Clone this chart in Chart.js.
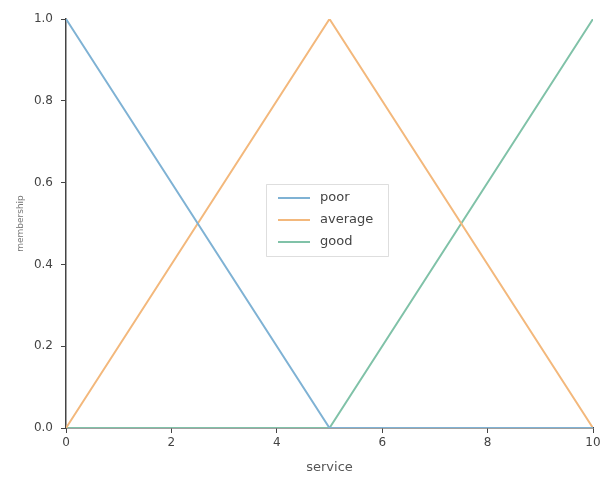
<!DOCTYPE html>
<html>
<head>
<meta charset="utf-8">
<script src="https://cdn.jsdelivr.net/npm/chart.js@4/dist/chart.umd.min.js"></script>
<style>
  body { margin: 0; background: #fff; }
  #wrap { width: 604px; height: 484px; }
</style>
</head>
<body>
<div id="wrap"><canvas id="chart" width="604" height="484"></canvas></div>
<script>
// universe points of the service variable
const service = [0, 5, 10];
const poor = [1, 0, 0];
const average = [0, 1, 0];
const good = [0, 0, 1];
const xTicks = [0, 2, 4, 6, 8, 10];
const yTicks = [0, 0.2, 0.4, 0.6, 0.8, 1.0];

const toPoints = (vals) => service.map((x, i) => ({ x: x, y: vals[i] }));

// legend drawn inside the plot, like matplotlib's "best" location
const innerLegend = {
  id: "innerLegend",
  afterDatasetsDraw(chart) {
    const ctx = chart.ctx;
    const left = 266, top = 184;
    ctx.save();
    ctx.strokeStyle = "rgba(200,200,200,0.6)";
    ctx.lineWidth = 1;
    ctx.fillStyle = "rgba(255,255,255,0.85)";
    ctx.beginPath();
    ctx.rect(left + 0.5, top + 0.5, 122, 72);
    ctx.fill();
    ctx.stroke();
    ctx.font = "13px 'DejaVu Sans'";
    ctx.textBaseline = "middle";
    chart.data.datasets.forEach((ds, i) => {
      const y = top + 14 + i * 22;
      ctx.strokeStyle = ds.borderColor;
      ctx.lineWidth = 2;
      ctx.beginPath();
      ctx.moveTo(left + 12, y);
      ctx.lineTo(left + 44, y);
      ctx.stroke();
      ctx.fillStyle = "#444";
      ctx.fillText(ds.label, left + 54, y);
    });
    ctx.restore();
  },
};

const ctx = document.getElementById("chart").getContext("2d");

new Chart(ctx, {
  type: "line",
  data: {
    datasets: [
      { label: "poor", data: toPoints(poor), borderColor: "#7fb2d4" },
      { label: "average", data: toPoints(average), borderColor: "#f3b87c" },
      { label: "good", data: toPoints(good), borderColor: "#80c2a8" },
    ],
  },
  options: {
    responsive: false,
    animation: false,
    layout: { padding: { top: 19, right: 11, left: 11, bottom: 0 } },
    elements: {
      point: { radius: 0 },
      line: { borderWidth: 2, tension: 0 },
    },
    plugins: {
      legend: { display: false },
      tooltip: { enabled: false },
    },
    scales: {
      x: {
        type: "linear",
        min: 0,
        max: 10,
        afterBuildTicks: (s) => { s.ticks = xTicks.map((v) => ({ value: v })); },
        afterFit: (s) => { s.height = 56; },
        grid: { drawOnChartArea: false, tickLength: 5, color: "#444" },
        border: { color: "#444", width: 1.5 },
        ticks: { color: "#444", font: { size: 12, family: "DejaVu Sans" }, padding: 3 },
        title: { display: true, text: "service", color: "#555", font: { size: 13, family: "DejaVu Sans" }, padding: { top: 4, bottom: 9 } },
      },
      y: {
        min: 0,
        max: 1,
        afterBuildTicks: (s) => { s.ticks = yTicks.map((v) => ({ value: v })); },
        afterFit: (s) => { s.width = 55; },
        grid: { drawOnChartArea: false, tickLength: 5, color: "#444" },
        border: { color: "#444", width: 1.5 },
        ticks: {
          color: "#444",
          font: { size: 12, family: "DejaVu Sans" },
          padding: 8,
          callback: (v) => v.toFixed(1),
        },
        title: { display: true, text: "membership", color: "#777", font: { size: 9, family: "DejaVu Sans" }, padding: { bottom: 4 } },
      },
    },
  },
  plugins: [innerLegend],
});
</script>
</body>
</html>
